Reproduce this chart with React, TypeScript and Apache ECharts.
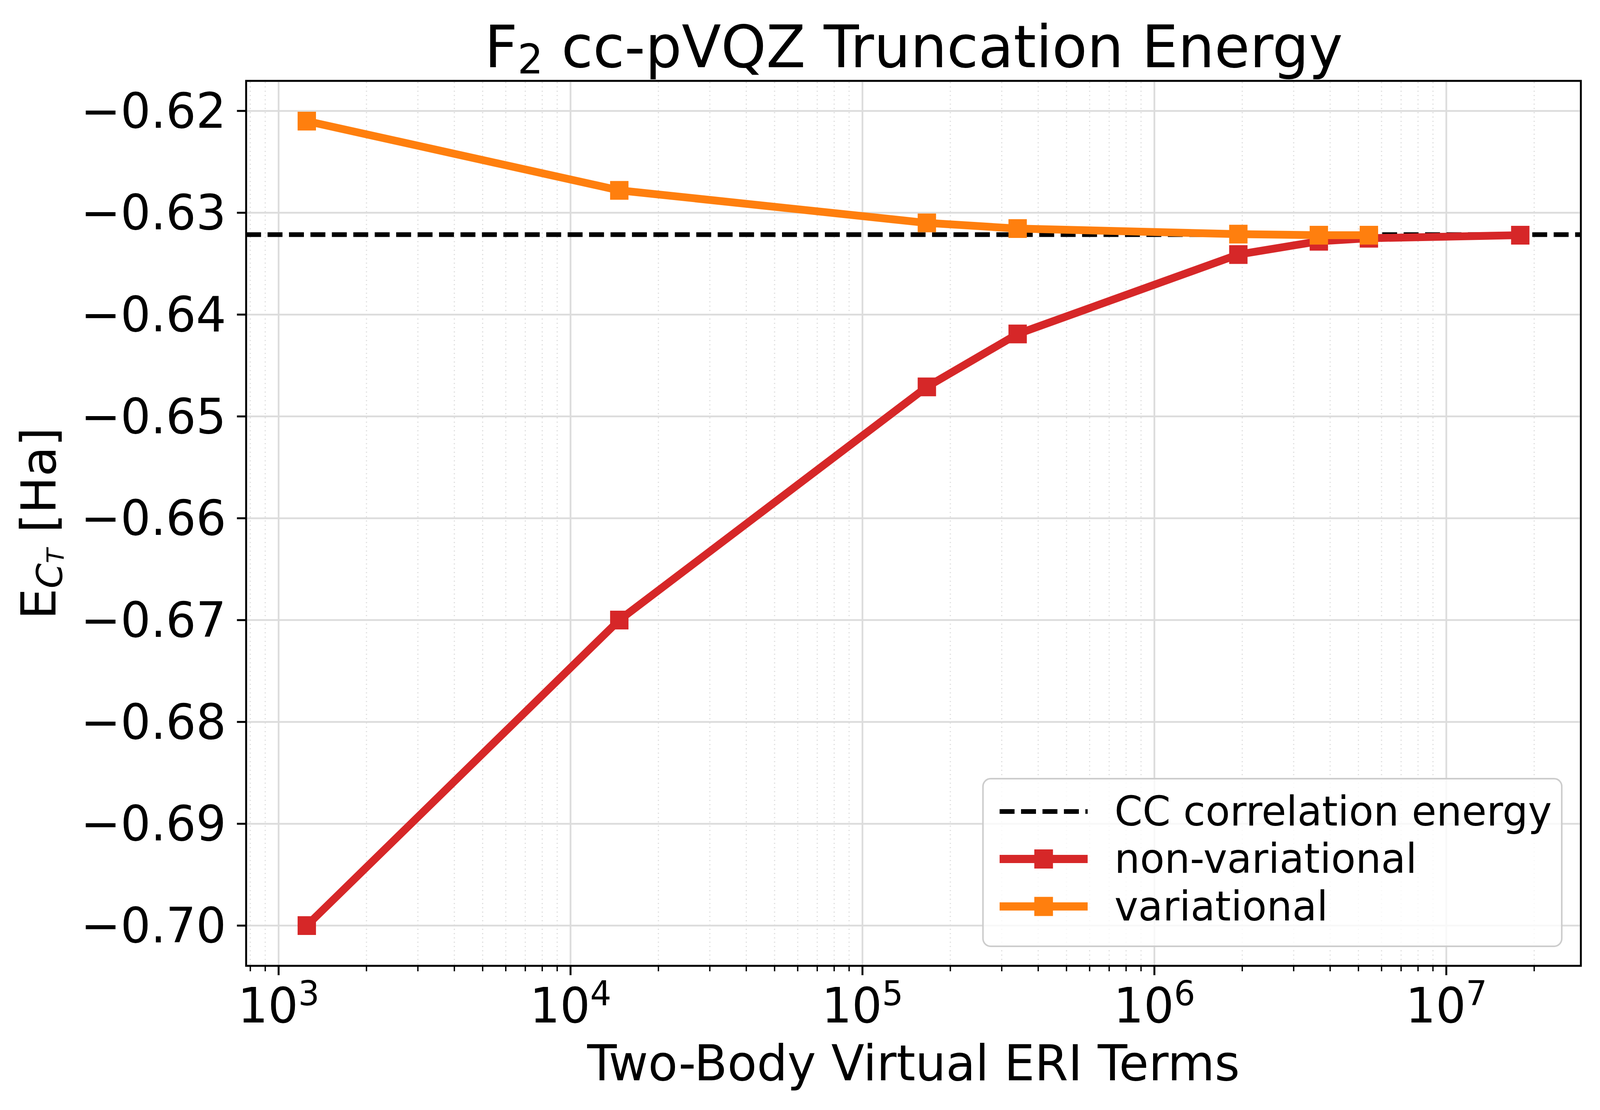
import React, { useEffect, useRef, useState } from 'react';
import * as echarts from 'echarts';

// ---- data ----
const NONVAR_X = [1249, 14690, 166200, 340100, 1939000, 3659000, 5430000, 17920000];
const NONVAR_Y = [-0.7, -0.67, -0.6471, -0.6419, -0.6341, -0.6328, -0.6325, -0.6322];
const VAR_X = [1249, 14690, 166200, 340100, 1939000, 3659000, 5430000];
const VAR_Y = [-0.621, -0.6278, -0.631, -0.63155, -0.6321, -0.6322, -0.6322];
const CC_ENERGY = -0.63215;

const SERIES_NAMES = ['CC correlation energy', 'non-variational', 'variational'];

// axis limits and ticks
const X_MIN = 774;
const X_MAX = 2.89e7;
const Y_MIN = -0.70395;
const Y_MAX = -0.61705;
const X_MAJOR = [1e3, 1e4, 1e5, 1e6, 1e7];
const X_MINOR = [
  800, 900,
  2000, 3000, 4000, 5000, 6000, 7000, 8000, 9000,
  2e4, 3e4, 4e4, 5e4, 6e4, 7e4, 8e4, 9e4,
  2e5, 3e5, 4e5, 5e5, 6e5, 7e5, 8e5, 9e5,
  2e6, 3e6, 4e6, 5e6, 6e6, 7e6, 8e6, 9e6,
  2e7,
];
const Y_MAJOR = [-0.7, -0.69, -0.68, -0.67, -0.66, -0.65, -0.64, -0.63, -0.62];

const W = 4180;
const H = 2841;
const FONT = 'DejaVu Sans';
const RED = '#d62728';
const ORANGE = '#ff7f0e';
const GRID_MAJOR = '#dcdcdc';
const GRID_MINOR = '#dedede';

export default function App() {
  const ref = useRef<HTMLDivElement>(null);
  const [scale, setScale] = useState<[number, number]>(() => [
    (typeof window !== 'undefined' ? window.innerWidth : W) / W,
    (typeof window !== 'undefined' ? window.innerHeight : H) / H,
  ]);

  useEffect(() => {
    const onResize = () => setScale([window.innerWidth / W, window.innerHeight / H]);
    window.addEventListener('resize', onResize);
    return () => window.removeEventListener('resize', onResize);
  }, []);

  useEffect(() => {
    if (!ref.current) return;
    const chart = echarts.init(ref.current, undefined, { renderer: 'svg', width: W, height: H });

    const decoData: number[][] = [
      ...X_MAJOR.map((v) => [v, Y_MIN, 1]),
      ...X_MINOR.map((v) => [v, Y_MIN, 0]),
      ...Y_MAJOR.map((v) => [X_MIN, v, 2]),
    ];

    const option: any = {
      animation: false,
      backgroundColor: '#ffffff',
      title: {
        text: '{a|F}{s|2}{a| cc-pVQZ Truncation Energy}',
        left: 2387,
        top: 35,
        textAlign: 'center',
        padding: 0,
        textStyle: {
          fontWeight: 'normal',
          rich: {
            a: { fontFamily: FONT, fontSize: 150, fontWeight: 'normal', color: '#000', lineHeight: 170 },
            s: { fontFamily: FONT, fontSize: 105, fontWeight: 'normal', color: '#000', lineHeight: 107, verticalAlign: 'bottom' },
          },
        },
      },
      grid: {
        left: 643,
        right: 50,
        top: 207,
        bottom: 369,
        show: true,
        borderColor: '#000',
        borderWidth: 5,
        backgroundColor: 'transparent',
        containLabel: false,
        outerBoundsMode: 'none',
      },
      legend: {
        orient: 'vertical',
        left: 2568,
        top: 1993,
        padding: [31.5, 26, 49.5, 33],
        itemWidth: 230,
        itemHeight: 61,
        itemGap: 16.5,
        backgroundColor: 'rgba(255,255,255,0.8)',
        borderColor: '#cccccc',
        borderWidth: 4,
        borderRadius: 20,
        textStyle: {
          fontFamily: FONT,
          fontSize: 105,
          color: '#000',
          padding: [0, 0, 0, 65],
        },
        lineStyle: { width: 21 },
        data: [
          { name: SERIES_NAMES[0], lineStyle: { width: 12, type: [39, 17] }, itemStyle: { opacity: 0 } },
          SERIES_NAMES[1],
          SERIES_NAMES[2],
        ],
      },
      xAxis: {
        type: 'log',
        logBase: 10,
        min: X_MIN,
        max: X_MAX,
        axisLine: { show: false },
        axisTick: { show: false },
        minorTick: { show: false },
        splitLine: { show: false },
        axisLabel: {
          margin: 27,
          formatter: (v: number) => {
            const e = Math.log10(v);
            const r = Math.round(e);
            if (Math.abs(e - r) > 1e-6) return '';
            return '{b|10}{s|' + r + '}';
          },
          rich: {
            b: { fontFamily: FONT, fontSize: 124, color: '#000', lineHeight: 150 },
            s: { fontFamily: FONT, fontSize: 87, color: '#000', lineHeight: 78, verticalAlign: 'top' },
          },
        },
        name: 'Two-Body Virtual ERI Terms',
        nameLocation: 'middle',
        nameGap: 174,
        nameTextStyle: { fontFamily: FONT, fontSize: 126, color: '#000', lineHeight: 150 },
      },
      yAxis: {
        type: 'value',
        min: Y_MIN,
        max: Y_MAX,
        splitNumber: 9,
        axisLine: { show: false },
        axisTick: { show: false },
        splitLine: { show: false },
        axisLabel: {
          margin: 52,
          fontFamily: FONT,
          fontSize: 124,
          color: '#000',
          formatter: (v: number) => {
            const r = Math.round(v * 100);
            if (Math.abs(v * 100 - r) > 1e-6) return '';
            return (r < 0 ? '\u2212' : '') + (Math.abs(r) / 100).toFixed(2);
          },
        },
        name: '{e|E}{c|C}{t|T}{h| [Ha]}',
        nameLocation: 'middle',
        nameRotate: 90,
        nameGap: 467,
        nameTextStyle: {
          rich: {
            e: { fontFamily: FONT, fontSize: 126, color: '#000', lineHeight: 150 },
            c: { fontFamily: FONT, fontSize: 92, fontStyle: 'italic', color: '#000', lineHeight: 88, verticalAlign: 'bottom' },
            t: { fontFamily: FONT, fontSize: 62, fontStyle: 'italic', color: '#000', lineHeight: 37, verticalAlign: 'bottom' },
            h: { fontFamily: FONT, fontSize: 126, color: '#000', lineHeight: 150 },
          },
        },
      },
      series: [
        {
          name: 'decorations',
          type: 'custom',
          silent: true,
          clip: false,
          z: 1,
          encode: { x: 0, y: 1 },
          data: decoData,
          renderItem: (params: any, api: any) => {
            const kind = api.value(2);
            const cs = params.coordSys;
            const left = cs.x;
            const right = cs.x + cs.width;
            const top = cs.y;
            const bottom = cs.y + cs.height;
            if (kind === 2) {
              const y = api.coord([X_MIN, api.value(1)])[1];
              return {
                type: 'group',
                children: [
                  { type: 'line', shape: { x1: left + 3, y1: y, x2: right - 3, y2: y }, style: { stroke: GRID_MAJOR, lineWidth: 4.5 } },
                  { type: 'line', shape: { x1: left - 24, y1: y, x2: left, y2: y }, style: { stroke: '#000', lineWidth: 5 } },
                ],
              };
            }
            const x = api.coord([api.value(0), Y_MIN])[0];
            const major = kind === 1;
            return {
              type: 'group',
              children: [
                {
                  type: 'line',
                  shape: { x1: x, y1: top + 3, x2: x, y2: bottom - 3 },
                  style: major
                    ? { stroke: GRID_MAJOR, lineWidth: 4.5 }
                    : { stroke: GRID_MINOR, lineWidth: 3, lineDash: [3, 8] },
                },
                {
                  type: 'line',
                  shape: { x1: x, y1: bottom, x2: x, y2: bottom + (major ? 24 : 14) },
                  style: { stroke: '#000', lineWidth: major ? 5 : 3.5 },
                },
              ],
            };
          },
        },
        {
          name: SERIES_NAMES[0],
          type: 'line',
          symbol: 'none',
          z: 2,
          data: [[X_MIN, CC_ENERGY], [X_MAX, CC_ENERGY]],
          lineStyle: { color: '#000', width: 12, type: [39, 17] },
          itemStyle: { color: '#000' },
        },
        {
          name: SERIES_NAMES[1],
          type: 'line',
          symbol: 'rect',
          symbolSize: 48,
          showAllSymbol: true,
          z: 3,
          data: NONVAR_X.map((x, i) => [x, NONVAR_Y[i]]),
          lineStyle: { color: RED, width: 20, join: 'round' },
          itemStyle: { color: RED },
        },
        {
          name: SERIES_NAMES[2],
          type: 'line',
          symbol: 'rect',
          symbolSize: 48,
          showAllSymbol: true,
          z: 4,
          data: VAR_X.map((x, i) => [x, VAR_Y[i]]),
          lineStyle: { color: ORANGE, width: 20, join: 'round' },
          itemStyle: { color: ORANGE },
        },
      ],
    };

    chart.setOption(option);
    return () => chart.dispose();
  }, []);

  return (
    <div style={{ position: 'fixed', left: 0, top: 0, width: '100vw', height: '100vh', overflow: 'hidden', background: '#fff' }}>
      <div
        ref={ref}
        style={{
          position: 'absolute',
          left: 0,
          top: 0,
          width: W,
          height: H,
          transformOrigin: '0 0',
          transform: `scale(${scale[0]}, ${scale[1]})`,
        }}
      />
    </div>
  );
}
